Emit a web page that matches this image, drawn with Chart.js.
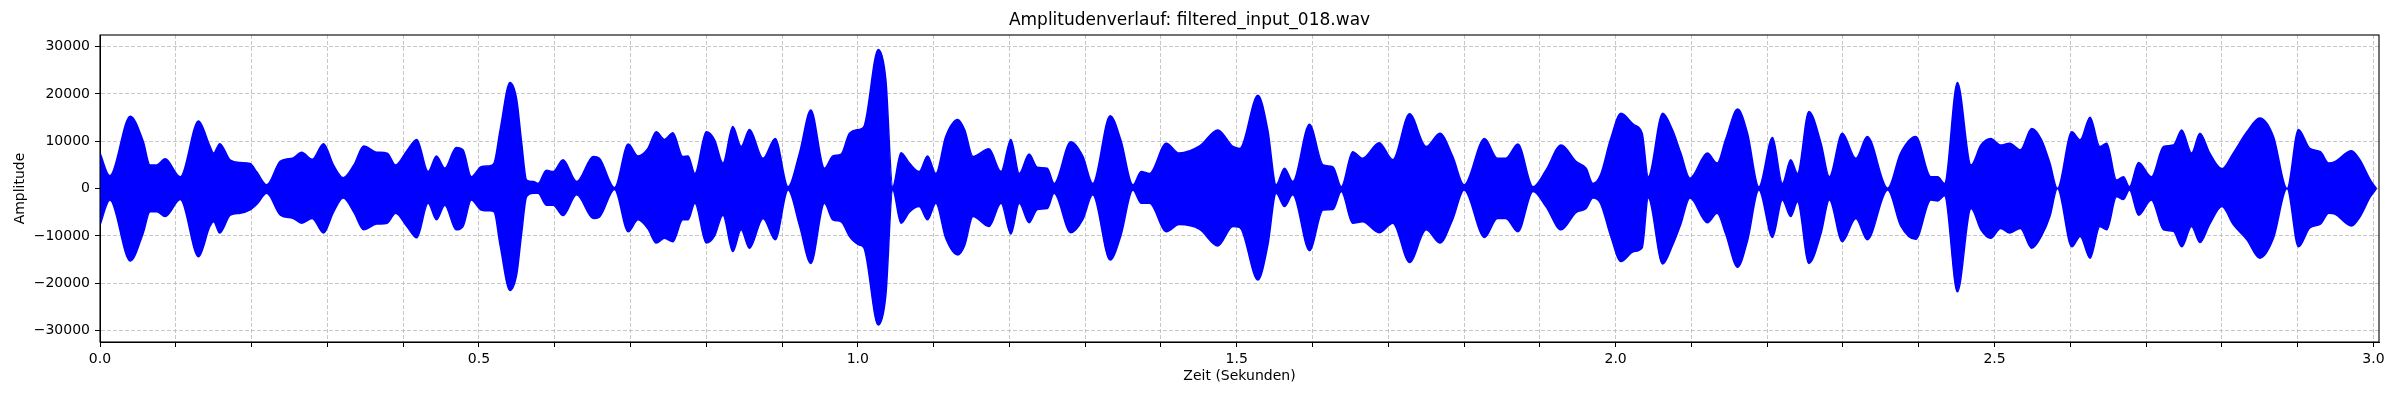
<!DOCTYPE html>
<html>
<head>
<meta charset="utf-8">
<title>Amplitudenverlauf</title>
<script src="https://cdn.jsdelivr.net/npm/chart.js"></script>
<style>
  html, body { margin: 0; padding: 0; background: #fff; }
</style>
</head>
<body>
<canvas id="chart-wave" width="2400" height="400"></canvas>
<script>
// Huellkurve des Signals (Zeit in s)
var zeit = [0.000, 0.013, 0.040, 0.057, 0.066, 0.075, 0.086, 0.106, 0.130, 0.145, 0.150, 0.158, 0.172, 0.185, 0.198, 0.207, 0.220, 0.238, 0.255, 0.266, 0.280, 0.295, 0.308, 0.321, 0.335, 0.348, 0.365, 0.379, 0.390, 0.405, 0.418,
  0.433, 0.444, 0.455, 0.470, 0.479, 0.490, 0.503, 0.514, 0.520, 0.528, 0.541, 0.550, 0.556, 0.563, 0.572, 0.578, 0.589, 0.598, 0.611, 0.629, 0.651, 0.659, 0.679, 0.697, 0.710, 0.723, 0.734, 0.745, 0.756, 0.769, 0.776, 0.785, 0.800, 0.811, 0.822, 0.835, 0.846, 0.857, 0.875, 0.891, 0.908,
  0.923, 0.938, 0.956, 0.967, 0.978, 0.989, 1.002, 1.008, 1.027, 1.037, 1.046, 1.057, 1.068, 1.081, 1.092, 1.103, 1.116, 1.132, 1.141, 1.152, 1.173, 1.189, 1.202, 1.213, 1.226, 1.237, 1.250, 1.259, 1.281, 1.297, 1.310, 1.333, 1.347, 1.363, 1.374, 1.385, 1.407, 1.424, 1.451,
  1.475, 1.495, 1.504, 1.528, 1.541, 1.552, 1.563, 1.574, 1.596, 1.614, 1.627, 1.638, 1.653, 1.666, 1.688, 1.706, 1.728, 1.750, 1.768, 1.785, 1.800, 1.827, 1.844, 1.855, 1.871, 1.891, 1.908, 1.928, 1.948, 1.961, 1.970, 1.980,
  1.993, 2.007, 2.024, 2.035, 2.043, 2.062, 2.075, 2.086, 2.098, 2.121, 2.134, 2.145, 2.161, 2.174, 2.189, 2.207, 2.220, 2.231, 2.240, 2.255, 2.271, 2.282, 2.299, 2.317, 2.332, 2.359, 2.376, 2.396, 2.416, 2.425, 2.434, 2.451, 2.469, 2.482, 2.495, 2.508,
  2.520, 2.534, 2.549, 2.562, 2.573, 2.583, 2.602, 2.613, 2.626, 2.639, 2.648, 2.661, 2.670, 2.678, 2.690, 2.707, 2.723, 2.736, 2.747, 2.760, 2.771, 2.784, 2.800, 2.815, 2.833, 2.850, 2.868, 2.886, 2.901, 2.916, 2.930, 2.941, 2.949, 2.971, 2.982, 2.996, 3.004];

var oben = [7500, 2700, 15300, 10000, 5000, 5000, 6300, 2500, 14300, 9000, 7500, 9500, 6000, 5500, 5300, 3500, 800, 5800, 6500, 7700, 6200, 9500, 5000, 2300, 5000, 9000, 7700, 7500, 5000, 8000, 10400,
  3600, 6900, 4300, 8700, 8200, 2500, 4600, 4800, 5400, 12400, 22400, 18700, 10300, 1800, 1500, 1100, 3900, 3600, 6100, 1500, 6800, 6400, 200, 9400, 6900, 8500, 12000, 10400, 11800, 6800, 6900, 3200, 12000, 10300, 5400, 13100, 8900, 12500, 6400, 10600, 400,
  7500, 16600, 4300, 6900, 7300, 11700, 12500, 13100, 29400, 23000, 400, 7600, 5400, 3600, 6900, 3200, 11000, 14600, 12400, 6800, 8400, 3600, 10400, 3200, 7300, 4500, 4300, 1100, 9900, 6800, 1100, 15400, 10300, 800, 3600, 3200, 9600, 7500, 9000,
  12400, 8900, 8500, 19700, 12400, 800, 4300, 1500, 13600, 5000, 4600, 400, 7800, 6400, 9700, 6100, 15800, 8900, 11700, 6800, 800, 10600, 6400, 6400, 9400, 400, 3900, 9200, 5700, 4300, 1100, 2900,
  10300, 15900, 13500, 11700, 2500, 15900, 12400, 7500, 2200, 7500, 5400, 10300, 16800, 11700, 400, 10800, 1100, 6100, 3200, 16300, 9600, 2500, 11700, 6400, 11000, 100, 7500, 11000, 2500, 2500, 1100, 22400, 5000, 9200, 10600, 9200,
  9600, 8200, 12700, 10300, 5400, 0, 12000, 10300, 15100, 8900, 9600, 1800, 2500, 400, 5500, 2500, 8900, 9200, 12400, 7500, 11700, 7500, 4200, 7500, 12000, 14900, 11000, 0, 12500, 8500, 7800, 5400, 5700, 8000, 6100, 1800, 0];

var unten = [-7700, -2400, -15300, -9400, -4900, -4900, -5900, -2300, -14400, -8000, -7000, -9400, -5600, -5200, -4500, -3300, -1000, -5600, -6300, -7300, -6300, -9400, -5000, -2000, -5000, -8700, -7500, -7300, -5200, -8000, -10400,
  -3100, -6600, -3500, -8700, -8000, -2400, -4500, -4700, -4900, -12000, -21500, -18000, -10000, -1700, -1000, -1000, -3500, -3500, -5700, -1300, -6300, -6000, -200, -9100, -6600, -8500, -11500, -10500, -11200, -6600, -6600, -3100, -11500, -10000, -5600, -13300, -8700, -12600, -6300, -10800, -300,
  -7800, -15800, -3100, -6600, -7000, -10100, -11900, -12500, -28800, -22500, -300, -7300, -5000, -3800, -6600, -3100, -10500, -14000, -12000, -5900, -8000, -3100, -9600, -3100, -7200, -4400, -4200, -1000, -9300, -6500, -1300, -15100, -10000, -300, -3100, -3100, -9100, -7600, -8600,
  -12100, -8000, -8200, -19300, -12000, -1000, -3800, -1300, -13100, -4500, -4400, -600, -7300, -7000, -9300, -7300, -15600, -8700, -11500, -6500, -300, -10300, -6300, -6300, -9100, -600, -3800, -8700, -5000, -4200, -2000, -3100,
  -9800, -15400, -13300, -12500, -2000, -15900, -12000, -7500, -2000, -7200, -5200, -9500, -16600, -11000, -300, -10300, -2400, -5900, -2800, -15800, -9500, -2400, -11200, -6300, -10800, -300, -7800, -10700, -2400, -2600, -1500, -21800, -4200, -8700, -10500, -8400,
  -9400, -8400, -12600, -10000, -5900, 0, -12300, -10100, -14700, -8000, -8700, -1700, -2300, -300, -5600, -2400, -8700, -9000, -12300, -8000, -11400, -7500, -3800, -7600, -10800, -14700, -10500, 0, -12300, -8300, -7500, -5200, -5400, -7900, -6000, -1700, 0];

var yTicks = [-30000, -20000, -10000, 0, 10000, 20000, 30000];
var xMajor = [0.0, 0.5, 1.0, 1.5, 2.0, 2.5, 3.0];

var schrift = 'DejaVu Sans';

// rahmen um den plotbereich wie bei matplotlib
var rahmen = {
  id: 'rahmen',
  afterDraw: function(chart) {
    var a = chart.chartArea, ctx = chart.ctx;
    ctx.save();
    ctx.strokeStyle = '#000';
    ctx.lineWidth = 1.1;
    ctx.strokeRect(a.left, a.top, a.right - a.left, a.bottom - a.top);
    ctx.restore();
  }
};

var punkteOben = [], punkteUnten = [];
for (let i = 0; i < zeit.length; i++) {
  punkteOben.push({x: zeit[i], y: oben[i]});
  punkteUnten.push({x: zeit[i], y: unten[i]});
}

var ctx = document.getElementById('chart-wave');
var waveChart = new Chart(ctx, {
  type: 'line',
  data: {
    datasets: [{
      label: 'oben',
      data: punkteOben,
      borderColor: '#0000ff',
      backgroundColor: '#0000ff',
      borderWidth: 1.5,
      pointRadius: 0,
      cubicInterpolationMode: 'monotone',
      fill: '+1'
    }, {
      label: 'unten',
      data: punkteUnten,
      borderColor: '#0000ff',
      backgroundColor: '#0000ff',
      borderWidth: 1.5,
      pointRadius: 0,
      cubicInterpolationMode: 'monotone',
      fill: false
    }]
  },
  options: {
    responsive: false,
    animation: false,
    events: [],
    layout: { padding: { left: 0, right: 21, top: 0, bottom: 0 } },
    plugins: {
      legend: { display: false },
      tooltip: { enabled: false },
      title: {
        display: true,
        text: 'Amplitudenverlauf: filtered_input_018.wav',
        color: '#000',
        font: { family: schrift, size: 17, weight: 'normal' },
        padding: { top: 10, bottom: 4.6 }
      }
    },
    scales: {
      x: {
        type: 'linear',
        min: 0,
        max: 3.0073,
        afterFit: function(s) { s.height = 58; },
        ticks: {
          stepSize: 0.1,
          autoSkip: false,
          maxRotation: 0,
          includeBounds: false,
          color: '#000',
          padding: 4,
          font: { family: schrift, size: 14 },
          callback: function(v) {
            var r = Math.round(v * 10) / 10;
            return xMajor.indexOf(r) >= 0 ? r.toFixed(1) : '';
          }
        },
        grid: {
          color: 'rgba(176,176,176,0.7)',
          lineWidth: 1,
          tickColor: '#000',
          tickLength: 5,
          tickBorderDash: []
        },
        border: { color: '#000', width: 1, dash: [4, 2] },
        title: {
          display: true,
          text: 'Zeit (Sekunden)',
          color: '#000',
          font: { family: schrift, size: 14 },
          padding: { top: 0, bottom: 15 }
        }
      },
      y: {
        min: -32400,
        max: 32450,
        afterFit: function(s) { s.width = 100; },
        afterBuildTicks: function(s) {
          s.ticks = yTicks.map(function(v) { return {value: v}; });
        },
        ticks: {
          color: '#000',
          padding: 5,
          font: { family: schrift, size: 14 },
          callback: function(v) {
            return v < 0 ? '\u2212' + Math.abs(v) : '' + v;
          }
        },
        grid: {
          color: 'rgba(176,176,176,0.7)',
          lineWidth: 1,
          tickColor: '#000',
          tickLength: 5,
          tickBorderDash: []
        },
        border: { color: '#000', width: 1, dash: [4, 2] },
        title: {
          display: true,
          text: 'Amplitude',
          color: '#000',
          font: { family: schrift, size: 14 },
          padding: { top: 12, bottom: 0 }
        }
      }
    }
  },
  plugins: [rahmen]
});
</script>
</body>
</html>
